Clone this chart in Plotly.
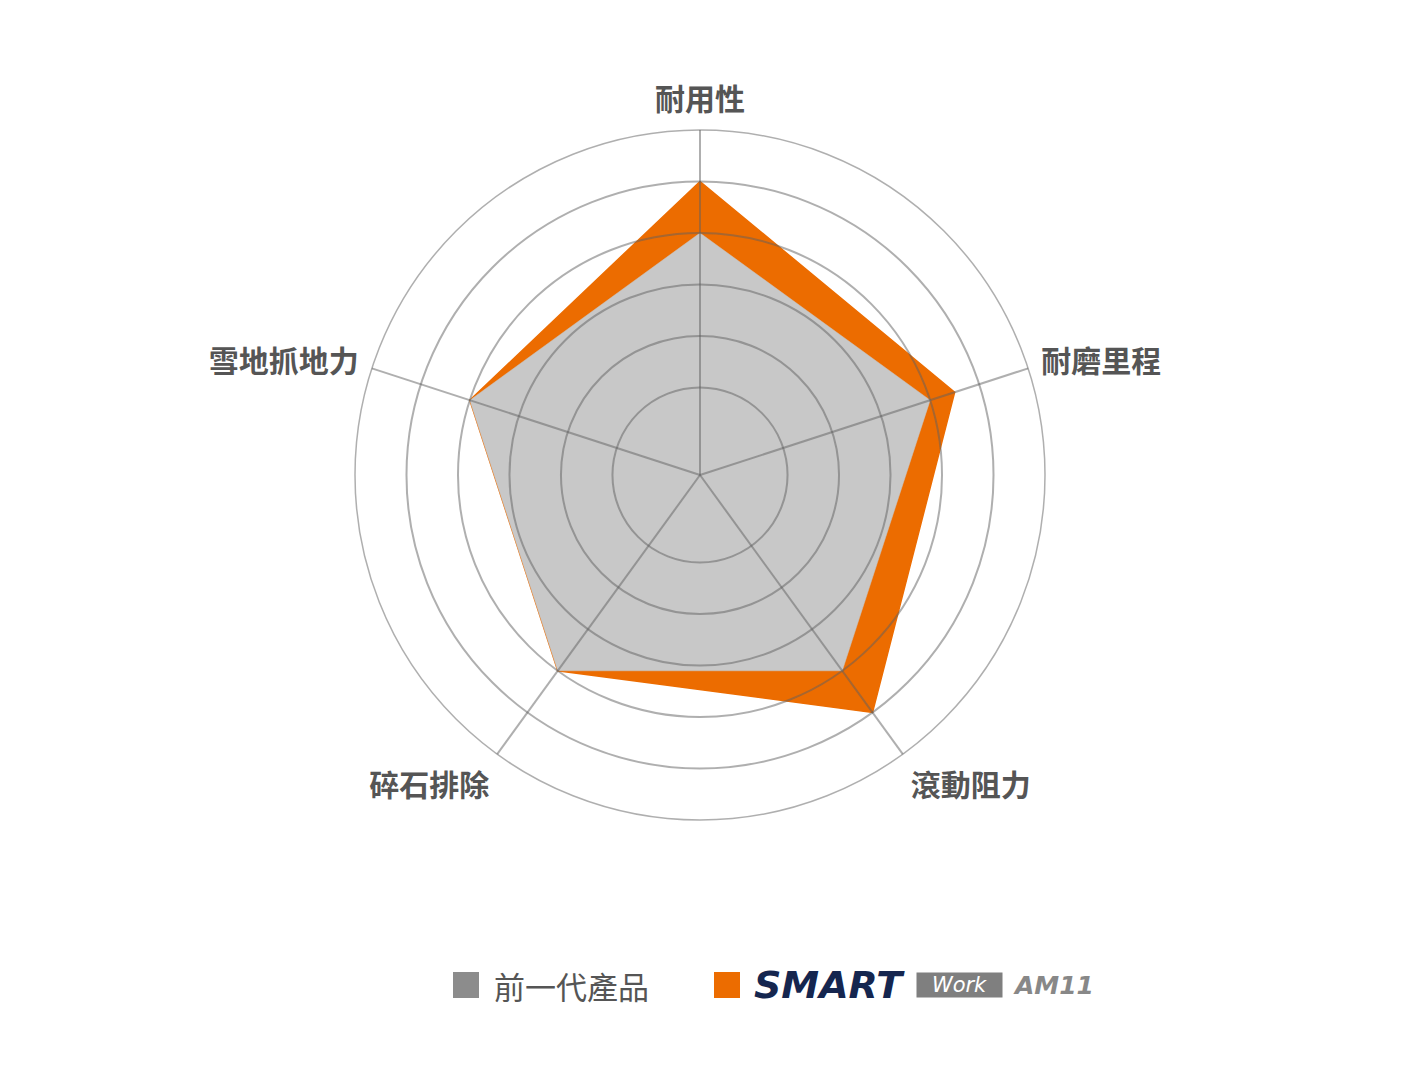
import plotly.graph_objects as go

# Radar categories (clockwise from the top)
categories = ["耐用性", "耐磨里程", "滾動阻力", "碎石排除", "雪地抓地力"]

# Scores (grid rings are at 1..6)
prev_scores = [4, 4, 4, 4, 4]
am11_scores = [5, 4.5, 5, 4, 4]

ring_ticks = [1, 2, 3, 4, 5, 6]

W, H = 1416, 1072
OFF = 8  # page body margin in the browser
CJK = "Noto Sans CJK TC"
GRID = "rgba(95,95,95,0.5)"


def close(vals):
    return vals + vals[:1]


fig = go.Figure()

fig.add_trace(go.Scatterpolar(
    r=close(am11_scores), theta=close(categories),
    fill="toself", fillcolor="#EC6C00",
    line=dict(color="#EC6C00", width=1.5),
    mode="lines", hoverinfo="skip", subplot="polar",
))
fig.add_trace(go.Scatterpolar(
    r=close(prev_scores), theta=close(categories),
    fill="toself", fillcolor="#C8C8C8",
    line=dict(color="#C8C8C8", width=0.5),
    mode="lines", hoverinfo="skip", subplot="polar",
))
# invisible trace so the grid overlay (polar2) gets drawn on top of the fills
fig.add_trace(go.Scatterpolar(
    r=prev_scores, theta=categories, mode="markers",
    marker=dict(size=1, opacity=0), hoverinfo="skip", subplot="polar2",
))

# polar area: centre (700, 475), outer radius 345 px in the screenshot
cx, cy, R = 700 - OFF, 475 - OFF, 345
domain = dict(x=[(cx - R) / W, (cx + R) / W],
              y=[1 - (cy + R) / H, 1 - (cy - R) / H])

radial_common = dict(range=[-0.7, 6], tickvals=ring_ticks,
                     showticklabels=False, ticks="", showline=False)
angular_common = dict(direction="clockwise", rotation=90,
                      type="category", categoryarray=categories)

fig.update_layout(
    width=W, height=H,
    margin=dict(l=0, r=0, t=0, b=0),
    paper_bgcolor="white",
    plot_bgcolor="white",
    showlegend=False,
    polar=dict(
        domain=domain, bgcolor="white",
        radialaxis=dict(**radial_common, showgrid=False),
        angularaxis=dict(**angular_common, showgrid=False, showline=False,
                         showticklabels=False, ticks=""),
    ),
    polar2=dict(
        domain=domain, bgcolor="rgba(0,0,0,0)",
        radialaxis=dict(**radial_common, gridcolor=GRID, gridwidth=1.5),
        angularaxis=dict(
            **angular_common,
            showline=True, linecolor=GRID, linewidth=1.5,
            gridcolor=GRID, gridwidth=1.5,
            ticks="outside", ticklen=7, tickcolor="rgba(0,0,0,0)",
            tickfont=dict(family=CJK, size=30, color="#555555", weight=700),
        ),
    ),
)


# hand-built legend so the swatches and the product logo match
def px(x):
    return (x - OFF) / W


def py(y):
    return 1 - (y - OFF) / H


legend_y = 985
fig.add_shape(type="rect", xref="paper", yref="paper",
              x0=px(453), x1=px(479), y0=py(998), y1=py(972),
              fillcolor="#8C8C8C", line=dict(width=0))
fig.add_shape(type="rect", xref="paper", yref="paper",
              x0=px(714), x1=px(740), y0=py(998), y1=py(972),
              fillcolor="#EC6C00", line=dict(width=0))

fig.add_annotation(x=px(492), y=py(legend_y), xref="paper", yref="paper",
                   xanchor="left", yanchor="middle", showarrow=False,
                   text="前一代產品",
                   font=dict(family=CJK, size=31, color="#555555"))
fig.add_annotation(x=px(752), y=py(legend_y), xref="paper", yref="paper",
                   xanchor="left", yanchor="middle", showarrow=False,
                   text="<b><i>SMART</i></b>",
                   font=dict(family="DejaVu Sans", size=38, color="#15264F"))
fig.add_annotation(x=px(916), y=py(legend_y), xref="paper", yref="paper",
                   xanchor="left", yanchor="middle", showarrow=False,
                   text="<i>Work</i>", bgcolor="#7F7F7F",
                   width=85, height=24, borderpad=0,
                   font=dict(family="DejaVu Sans", size=21, color="white"))
fig.add_annotation(x=px(1011), y=py(legend_y), xref="paper", yref="paper",
                   xanchor="left", yanchor="middle", showarrow=False,
                   text="<b><i>AM11</i></b>",
                   font=dict(family="DejaVu Sans", size=25, color="#888888"))

fig.write_html("out.html")
